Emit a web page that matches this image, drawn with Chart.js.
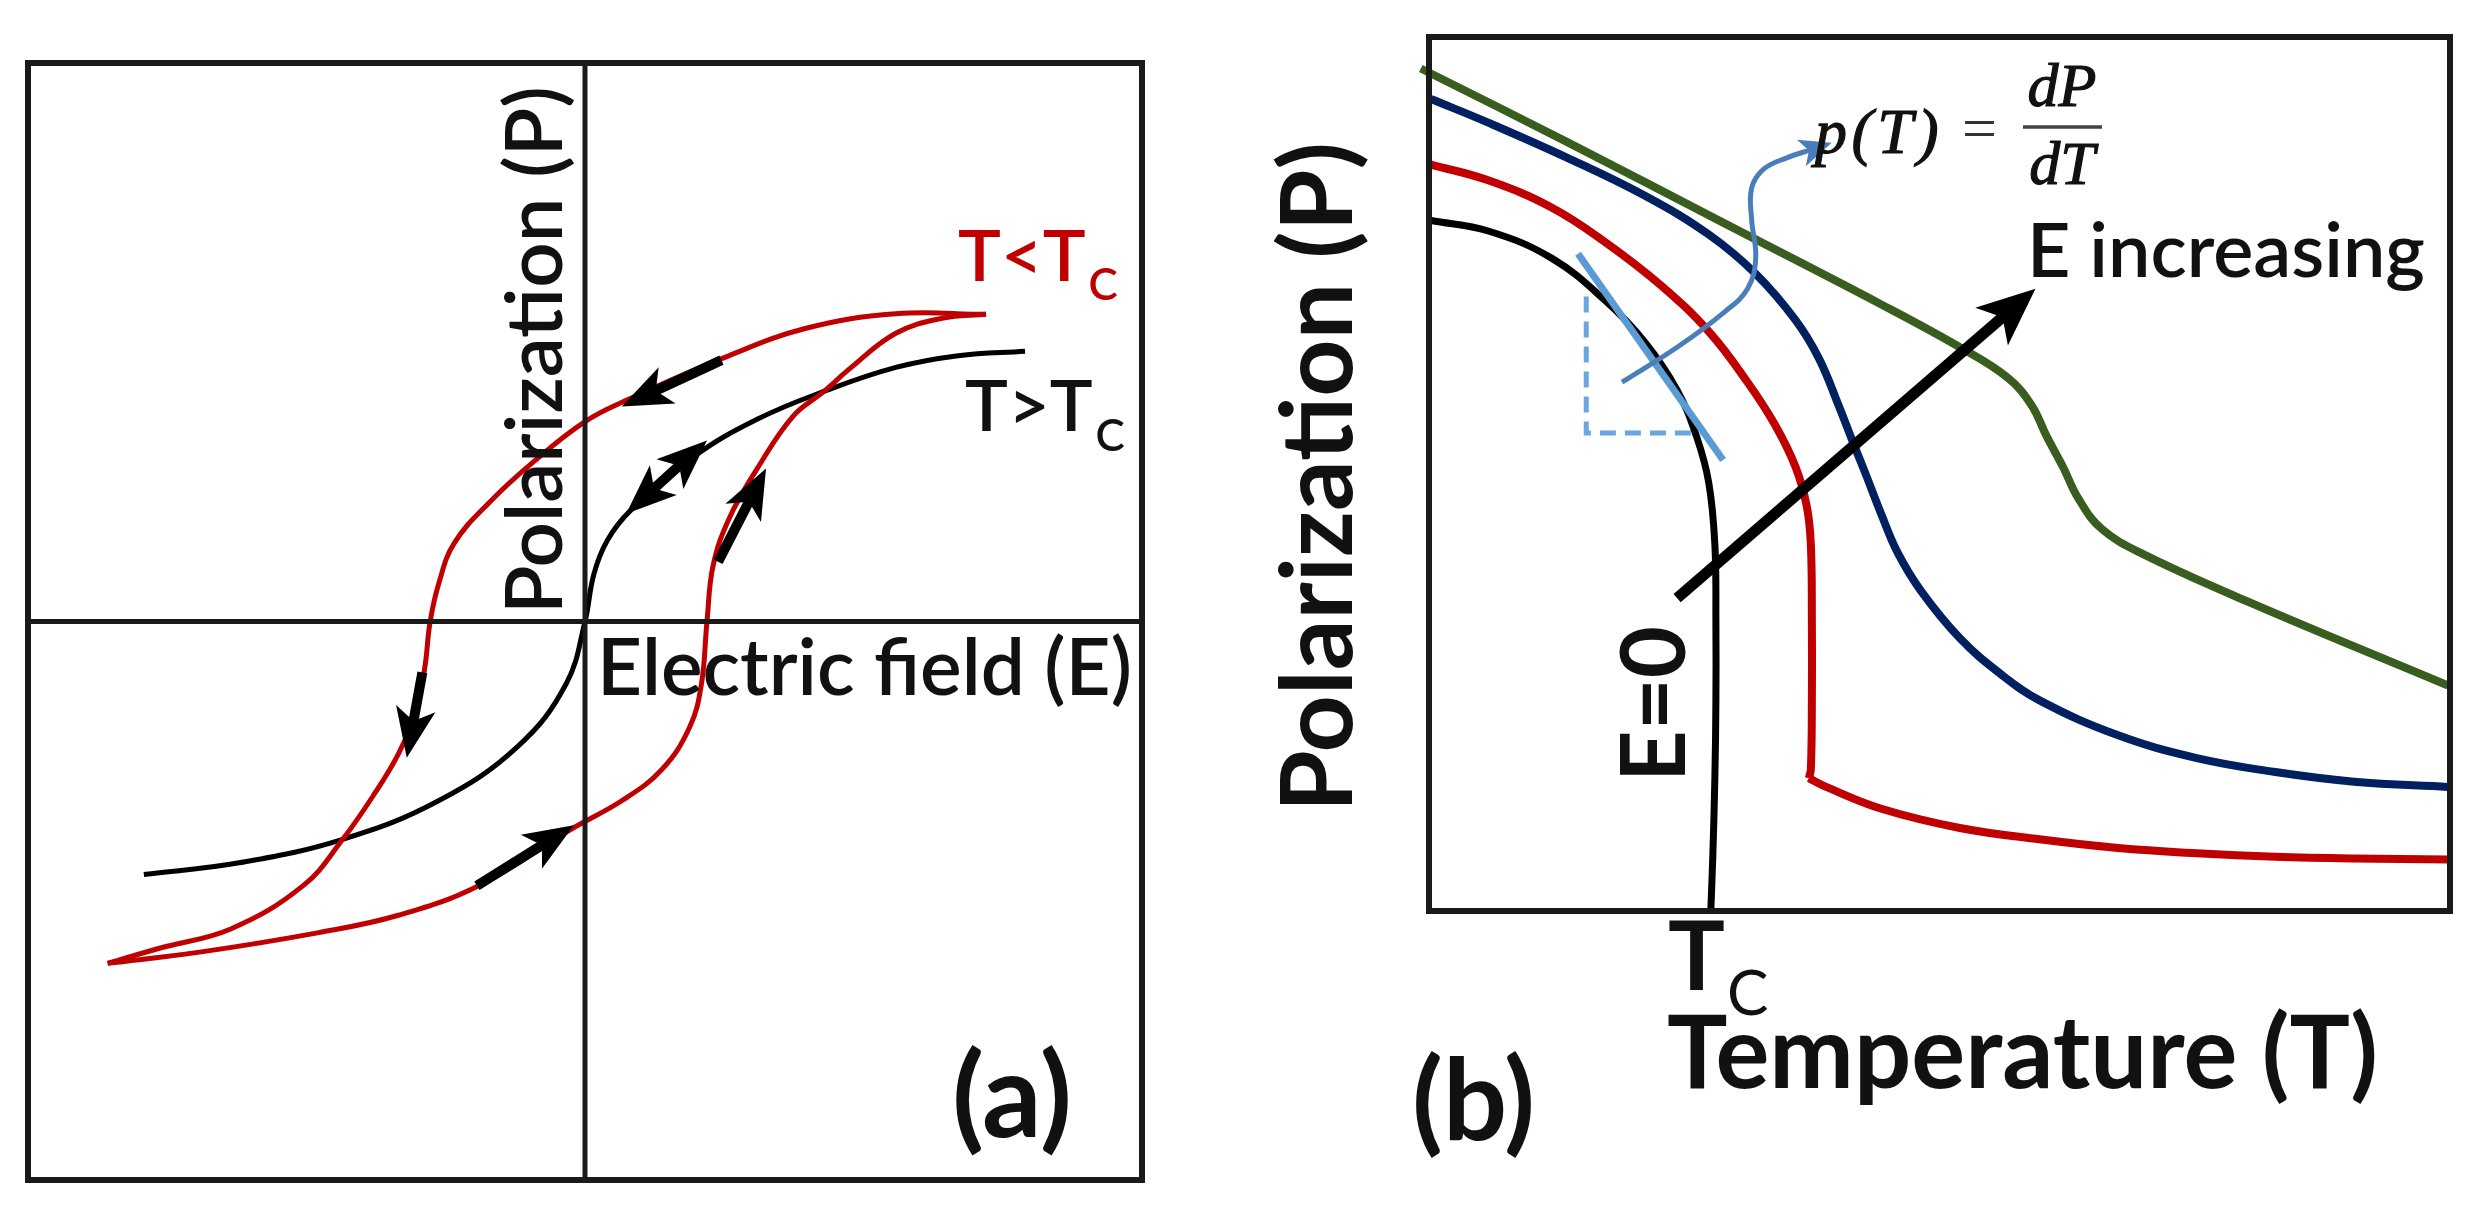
<!DOCTYPE html>
<html><head><meta charset="utf-8">
<script src="https://cdn.jsdelivr.net/npm/chart.js@4.4.1/dist/chart.umd.min.js"></script>
<style>
html,body{margin:0;padding:0;background:#fff;width:2491px;height:1219px;overflow:hidden;}
canvas{position:absolute;top:0;}
#ca{left:0px}
#cb{left:1250px}
</style></head><body>
<canvas id="ca" width="1250" height="1219"></canvas>
<canvas id="cb" width="1241" height="1219"></canvas>
<script>
// ---------- Panel (a): P-E hysteresis (schematic units) ----------
const E_RED_UP = [7.20, 5.58, 3.97, 2.51, 0.74, 0.0, -0.90, -1.70, -2.35, -2.62, -2.78, -2.88, -3.06, -3.35, -3.77, -4.35, -5.06, -6.35, -7.64, -8.57];
const P_RED_UP = [5.50, 5.51, 5.25, 4.73, 3.96, 3.58, 2.88, 2.15, 1.40, 0.70, 0.0, -0.85, -1.68, -2.37, -3.07, -3.90, -4.73, -5.50, -5.85, -6.12];
const E_RED_LO = [-8.57, -6.92, -4.78, -3.35, -1.91, -0.20, 0.66, 1.38, 1.88, 2.09, 2.19, 2.30, 2.59, 3.10, 3.73, 4.29, 4.78, 5.58, 6.41, 7.20];
const P_RED_LO = [-6.12, -5.92, -5.57, -5.26, -4.73, -3.69, -3.21, -2.65, -1.89, -1.12, 0.0, 1.00, 1.85, 2.75, 3.67, 4.12, 4.55, 5.16, 5.43, 5.50];
const E_BLK = [-7.92, -6.21, -4.35, -2.63, -1.20, -0.34, 0.0, 0.16, 0.40, 0.81, 1.95, 3.09, 4.29, 5.58, 6.70, 7.90];
const P_BLK = [-4.53, -4.32, -3.90, -3.21, -2.23, -1.12, 0.0, 0.85, 1.45, 1.98, 2.95, 3.62, 4.12, 4.55, 4.76, 4.84];
// arrows: [tailE, tailP, headE, headP]
const ARROW_A_LEFTDOWN = [2.45, 4.68, 0.66, 3.85];
const ARROW_A_DOUBLE   = [0.74, 1.93, 2.19, 3.24];
const ARROW_A_UP       = [2.39, 1.07, 3.25, 2.74];
const ARROW_A_DOWN     = [-2.92, -0.91, -3.20, -2.44];
const ARROW_A_RIGHT    = [-1.94, -4.73, -0.20, -3.65];

// ---------- Panel (b): P-T curves (schematic units) ----------
const T_E0 = [0.02, 0.58, 1.20, 1.73, 2.12, 2.43, 2.62, 2.74, 2.80, 2.81, 2.81, 2.80, 2.78, 2.76];
const P_E0 = [7.90, 7.78, 7.47, 6.98, 6.50, 5.96, 5.43, 4.90, 4.19, 3.30, 2.41, 1.53, 0.64, 0.0];
const T_RED = [0.02, 0.58, 1.20, 1.73, 2.27, 2.74, 3.12, 3.39, 3.59, 3.70, 3.74, 3.75, 3.75, 3.74, 3.72];
const P_RED = [8.54, 8.36, 8.05, 7.65, 7.16, 6.63, 6.05, 5.56, 5.08, 4.63, 4.19, 3.30, 2.41, 1.62, 1.52];
const T_RED_TAIL = [3.72, 3.89, 4.43, 5.20, 5.98, 6.75, 7.52, 8.29, 9.06, 9.98];
const P_RED_TAIL = [1.52, 1.42, 1.17, 0.95, 0.82, 0.72, 0.66, 0.62, 0.60, 0.59];
const T_BLUE = [0.02, 0.58, 1.35, 2.12, 2.74, 3.20, 3.59, 3.82, 4.01, 4.16, 4.28, 4.43, 4.59, 4.82, 5.20, 5.59, 5.98, 6.75, 7.52, 8.29, 9.06, 9.98];
const P_BLUE = [9.29, 9.02, 8.62, 8.18, 7.74, 7.29, 6.76, 6.32, 5.79, 5.34, 4.99, 4.54, 4.10, 3.66, 3.12, 2.72, 2.41, 2.01, 1.75, 1.59, 1.48, 1.42];
const T_GREEN = [-0.08, 1.35, 2.89, 4.43, 5.20, 5.67, 5.90, 6.05, 6.21, 6.36, 6.59, 7.00, 8.00, 9.98];
const P_GREEN = [9.64, 8.80, 7.87, 6.94, 6.45, 6.10, 5.79, 5.43, 5.08, 4.72, 4.37, 4.08, 3.55, 2.58];
const T_TANGENT = [1.46, 2.88];
const P_TANGENT = [7.52, 5.16];
const T_DASH = [1.54, 1.54, 2.66];
const P_DASH = [7.03, 5.47, 5.47];
const T_POINTER = [1.89, 2.43, 2.89, 3.12, 3.20, 3.16, 3.16, 3.28, 3.51, 3.74];
const P_POINTER = [6.05, 6.45, 6.85, 7.12, 7.47, 7.91, 8.27, 8.49, 8.62, 8.71];
const ARROW_B_E = [2.43, 3.58, 5.94, 7.12];

const pts = (xs, ys) => xs.map((x, i) => ({x: x, y: ys[i]}));

function arrow(ctx, x1, y1, x2, y2, shaftW, headL, headW, color, both) {
  const dx = x2 - x1, dy = y2 - y1, L = Math.hypot(dx, dy);
  const ux = dx / L, uy = dy / L;
  ctx.save();
  ctx.strokeStyle = color; ctx.fillStyle = color; ctx.lineWidth = shaftW; ctx.lineCap = 'butt';
  const sx = both ? x1 + ux * headL * 0.7 : x1, sy = both ? y1 + uy * headL * 0.7 : y1;
  if (shaftW > 0.5) {
    ctx.beginPath(); ctx.moveTo(sx, sy); ctx.lineTo(x2 - ux * headL * 0.7, y2 - uy * headL * 0.7); ctx.stroke();
  }
  const head = (tx, ty, vx, vy) => {
    const bx = tx - vx * headL, by = ty - vy * headL;
    const mx = tx - vx * headL * 0.75, my = ty - vy * headL * 0.75;
    const px = -vy, py = vx;
    ctx.beginPath();
    ctx.moveTo(tx, ty);
    ctx.lineTo(bx + px * headW / 2, by + py * headW / 2);
    ctx.lineTo(mx, my);
    ctx.lineTo(bx - px * headW / 2, by - py * headW / 2);
    ctx.closePath(); ctx.fill();
  };
  head(x2, y2, ux, uy);
  if (both) head(x1, y1, -ux, -uy);
  ctx.restore();
}

function txt(ctx, s, x, y, o) {
  ctx.save();
  const fam = o.family || 'Lato';
  const st = o.style || 'normal';
  let size = o.size || 60;
  ctx.font = `${st} ${o.weight || 400} ${size}px ${fam}`;
  if (o.width && !o.spread) {
    const w = ctx.measureText(s).width;
    size = size * o.width / w;
    ctx.font = `${st} ${o.weight || 400} ${size}px ${fam}`;
  }
  if (o.width && o.spread) {
    const w = ctx.measureText(s).width;
    ctx.letterSpacing = ((o.width - w) / s.length) + 'px';
  }
  ctx.fillStyle = o.color || '#111';
  ctx.textBaseline = 'alphabetic';
  ctx.textAlign = o.align || 'left';
  ctx.translate(x, y);
  if (o.rotate) ctx.rotate(-Math.PI / 2);
  ctx.fillText(s, 0, 0);
  if (o.stroke) { ctx.strokeStyle = ctx.fillStyle; ctx.lineWidth = o.stroke; ctx.strokeText(s, 0, 0); }
  const w = ctx.measureText(s).width;
  ctx.restore();
  return w;
}

const common = {
  type: 'scatter',
  options: {
    responsive: false, animation: false, devicePixelRatio: 1,
    plugins: {legend: {display: false}, tooltip: {enabled: false}},
    elements: {point: {radius: 0}},
  }
};

// ---------- Chart A ----------
const frameA = {
  id: 'frameA',
  afterDatasetsDraw(chart) {
    const ctx = chart.ctx, a = chart.chartArea, xs = chart.scales.x, ys = chart.scales.y;
    ctx.save();
    ctx.strokeStyle = '#1a1a1a'; ctx.lineWidth = 6;
    ctx.strokeRect(a.left, a.top, a.right - a.left, a.bottom - a.top);
    ctx.lineWidth = 5;
    const x0 = xs.getPixelForValue(0), y0 = ys.getPixelForValue(0);
    ctx.beginPath(); ctx.moveTo(x0, a.top); ctx.lineTo(x0, a.bottom);
    ctx.moveTo(a.left, y0); ctx.lineTo(a.right, y0); ctx.stroke();
    ctx.restore();
    const A = (v, both) => arrow(ctx, xs.getPixelForValue(v[0]), ys.getPixelForValue(v[1]),
      xs.getPixelForValue(v[2]), ys.getPixelForValue(v[3]), 10, 50, 40, '#000', both);
    A(ARROW_A_LEFTDOWN); A(ARROW_A_DOUBLE, true); A(ARROW_A_UP); A(ARROW_A_DOWN); A(ARROW_A_RIGHT);
    // texts
    txt(ctx, 'Polarization (P)', 562, 614, {rotate: true, width: 528, weight: 600});
    txt(ctx, 'Electric field (E)', 597, 695, {width: 535, weight: 600});
    let w = txt(ctx, 'T<T', 958, 281, {size: 72, weight: 600, color: '#C00000'});
    txt(ctx, 'C', 958 + w + 3, 300, {size: 44, weight: 600, color: '#C00000'});
    w = txt(ctx, 'T>T', 965, 431, {size: 72, weight: 600});
    txt(ctx, 'C', 965 + w + 3, 451, {size: 44, weight: 600});
    txt(ctx, '(a)', 952, 1137, {width: 120, weight: 700});
  }
};

new Chart(document.getElementById('ca'), {
  ...common,
  data: {datasets: [
    {data: pts(E_RED_UP, P_RED_UP), showLine: true, borderColor: '#C00000', borderWidth: 5, tension: 0.4},
    {data: pts(E_RED_LO, P_RED_LO), showLine: true, borderColor: '#C00000', borderWidth: 5, tension: 0.4},
    {data: pts(E_BLK, P_BLK), showLine: true, borderColor: '#000000', borderWidth: 5, tension: 0.4},
  ]},
  options: {...common.options,
    layout: {padding: {left: 28, top: 63, right: 108, bottom: 39}},
    scales: {x: {type: 'linear', min: -10, max: 10, display: false}, y: {type: 'linear', min: -10, max: 10, display: false}}
  },
  plugins: [frameA]
});

// ---------- Chart B ----------
const OB = 1250;
const frameB = {
  id: 'frameB',
  afterDatasetsDraw(chart) {
    const ctx = chart.ctx, a = chart.chartArea, xs = chart.scales.x, ys = chart.scales.y;
    ctx.save();
    ctx.strokeStyle = '#1a1a1a'; ctx.lineWidth = 6;
    ctx.strokeRect(a.left, a.top, a.right - a.left, a.bottom - a.top);
    ctx.restore();
    // pointer arrow head
    const n = T_POINTER.length;
    const hx = xs.getPixelForValue(T_POINTER[n - 1]), hy = ys.getPixelForValue(P_POINTER[n - 1]);
    const px = xs.getPixelForValue(T_POINTER[n - 2]), py = ys.getPixelForValue(P_POINTER[n - 2]);
    const dx = hx - px, dy = hy - py, L = Math.hypot(dx, dy);
    arrow(ctx, hx - dx / L * 4, hy - dy / L * 4, hx + dx / L * 22, hy + dy / L * 22, 0, 32, 28, '#4A7EBB');
    // big E arrow
    arrow(ctx, xs.getPixelForValue(ARROW_B_E[0]), ys.getPixelForValue(ARROW_B_E[1]),
      xs.getPixelForValue(ARROW_B_E[2]), ys.getPixelForValue(ARROW_B_E[3]), 11, 58, 50, '#000');
    // texts
    txt(ctx, 'Polarization (P)', 1352 - OB, 812, {rotate: true, width: 670, weight: 700});
    txt(ctx, 'E=0', 1685 - OB, 782, {rotate: true, width: 156, weight: 700});
    let w = txt(ctx, 'T', 1668 - OB, 990, {size: 95, weight: 700});
    txt(ctx, 'C', 1668 - OB + w + 2, 1015, {size: 62, weight: 400});
    txt(ctx, 'Temperature (T)', 1667 - OB, 1088, {width: 711, weight: 700});
    txt(ctx, '(b)', 1412 - OB, 1140, {width: 123, weight: 700});
    txt(ctx, 'E increasing', 2027 - OB, 277, {width: 398, weight: 600});
    // formula p(T) = dP/dT
    const fc = '#111';
    txt(ctx, 'p(T)', 1815 - OB, 153, {size: 64, style: 'italic', family: 'Liberation Serif', color: fc, width: 128, spread: true, stroke: 1.2});
    txt(ctx, '=', 1962 - OB, 149, {size: 62, family: 'Liberation Serif', color: '#333'});
    ctx.save(); ctx.strokeStyle = '#444'; ctx.lineWidth = 3.5;
    ctx.beginPath(); ctx.moveTo(2023 - OB, 127); ctx.lineTo(2102 - OB, 127); ctx.stroke(); ctx.restore();
    txt(ctx, 'dP', 2062 - OB, 106, {size: 62, style: 'italic', family: 'Liberation Serif', color: fc, align: 'center', stroke: 1.2});
    txt(ctx, 'dT', 2062 - OB, 184, {size: 62, style: 'italic', family: 'Liberation Serif', color: fc, align: 'center', stroke: 1.2});
  }
};

new Chart(document.getElementById('cb'), {
  ...common,
  data: {datasets: [
    {data: pts(T_POINTER, P_POINTER), showLine: true, borderColor: '#4A7EBB', borderWidth: 5, tension: 0.4},
    {data: pts(T_TANGENT, P_TANGENT), showLine: true, borderColor: '#5B9BD5', borderWidth: 7, tension: 0},
    {data: pts(T_DASH, P_DASH), showLine: true, borderColor: '#6AA6E0', borderWidth: 5, borderDash: [16, 9], tension: 0},
    {data: pts(T_E0, P_E0), showLine: true, borderColor: '#000000', borderWidth: 7, tension: 0.4},
    {data: pts(T_RED, P_RED), showLine: true, borderColor: '#C00000', borderWidth: 8, tension: 0.4},
    {data: pts(T_RED_TAIL, P_RED_TAIL), showLine: true, borderColor: '#C00000', borderWidth: 8, tension: 0.4},
    {data: pts(T_BLUE, P_BLUE), showLine: true, borderColor: '#002060', borderWidth: 8, tension: 0.4},
    {data: pts(T_GREEN, P_GREEN), showLine: true, borderColor: '#385D1F', borderWidth: 8, tension: 0.4, clip: false},
  ]},
  options: {...common.options,
    layout: {padding: {left: 179, top: 37, right: 41, bottom: 308}},
    scales: {x: {type: 'linear', min: 0, max: 10, display: false}, y: {type: 'linear', min: 0, max: 10, display: false}}
  },
  plugins: [frameB]
});
</script></body></html>
